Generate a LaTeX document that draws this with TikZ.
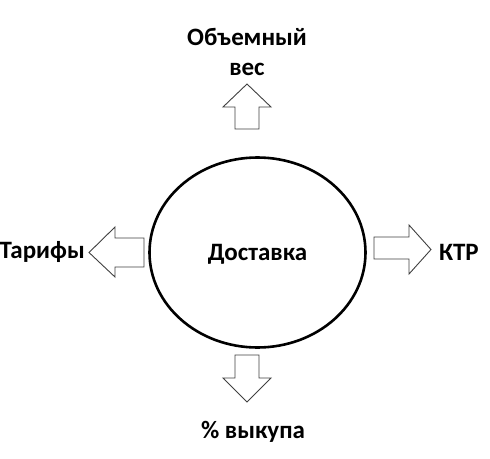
\documentclass[tikz,border=0pt]{standalone}
\usepackage{fontspec}
\setmainfont{Carlito}
\begin{document}
\begin{tikzpicture}[x=1pt,y=-1pt,
  lbl/.style={font=\fontsize{25}{30}\selectfont\bfseries, align=center, inner sep=0pt},
  blockarrow/.style={draw=black!75, line width=0.9pt, fill=white, line join=miter}]
\useasboundingbox (0,0) rectangle (490,458);
% central ellipse
\draw[line width=2.6pt] (257.5,252.5) ellipse [x radius=108, y radius=95];
\node[lbl] (hub) at (257.5,254) {Доставка};
% up arrow
\draw[blockarrow] (235,129) -- (235,107) -- (223,107) -- (247,84) -- (271,107) -- (259,107) -- (259,129) -- cycle;
% left arrow
\draw[blockarrow] (144,238) -- (115,238) -- (115,227) -- (89,252.5) -- (115,277) -- (115,267) -- (144,267) -- cycle;
% right arrow
\draw[blockarrow] (374,237) -- (409,237) -- (409,225) -- (431,249.5) -- (409,274) -- (409,259) -- (374,259) -- cycle;
% down arrow
\draw[blockarrow] (235,355) -- (235,378) -- (223,378) -- (247,402) -- (271,378) -- (259,378) -- (259,355) -- cycle;
% labels
\node[lbl] (top) at (247,52) {Объемный\\вес};
\node[lbl, anchor=east] (left) at (85,252) {Тарифы};
\node[lbl, anchor=west] (right) at (439,252) {КТР};
\node[lbl] (bottom) at (253,432) {\% выкупа};
\end{tikzpicture}
\end{document}
